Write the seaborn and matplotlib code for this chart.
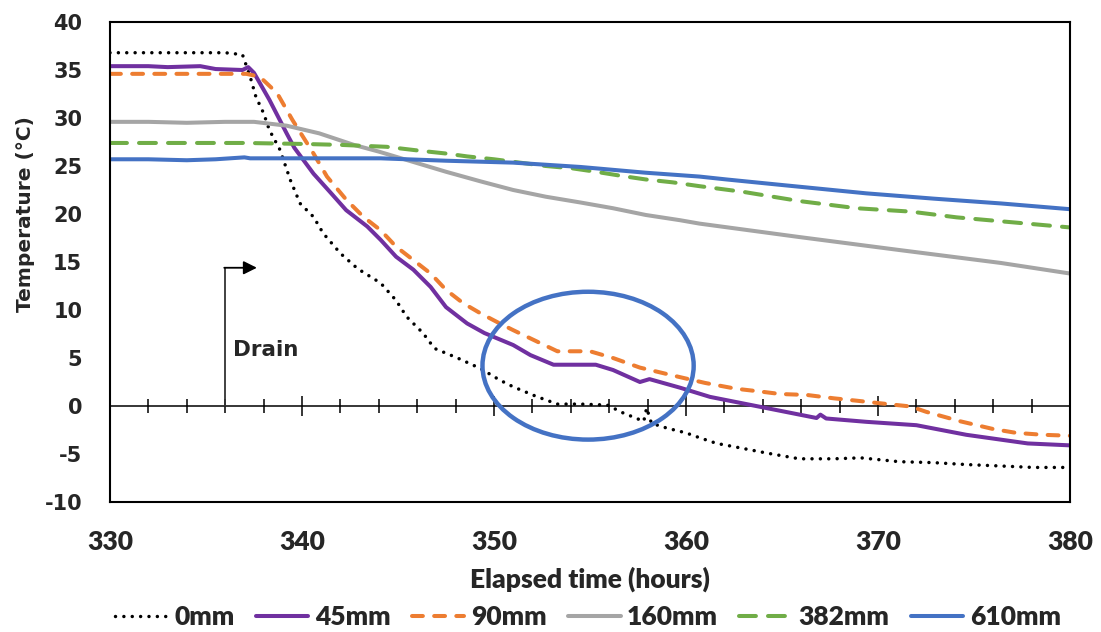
import matplotlib
matplotlib.use("Agg")
import matplotlib.pyplot as plt
from matplotlib import font_manager
from matplotlib.patches import Ellipse
import seaborn as sns

# Temperature records after draining, by depth (elapsed hours, degC)
t_0mm = [330, 332, 334, 336, 336.9, 337.3, 337.6, 338.0, 338.3, 338.85, 339.4, 339.9,
         340.6, 341.1, 342.0, 342.9, 344.1, 344.9, 345.45, 346.3, 346.9, 348.1, 349.3,
         350.3, 351.0, 352.2, 353.3, 354.5, 355.9, 356.7, 357.8, 357.95, 358.2, 359.0,
         360.0, 360.7, 361.6, 362.4, 364.2, 365.9, 367.7, 369.1, 371.1, 372.9, 374.6,
         376.4, 378.1, 380]
temp_0mm = [36.8, 36.8, 36.8, 36.8, 36.6, 34.3, 32.2, 30.5, 28.75, 26.7, 23.5, 21.1,
            19.7, 18.0, 15.9, 14.3, 12.8, 11.0, 9.3, 7.6, 6.0, 5.0, 3.9,
            2.7, 2.0, 1.0, 0.2, 0.2, 0.1, -0.7, -1.6, -0.2, -1.8, -2.3,
            -2.8, -3.3, -3.9, -4.2, -4.9, -5.5, -5.5, -5.4, -5.8, -5.9, -6.1,
            -6.25, -6.4, -6.4]

t_45mm = [330, 332, 333, 334.7, 335.5, 336.9, 337.2, 337.5, 338.3, 339.2, 339.6, 340.6,
          341.5, 342.3, 343.4, 344.1, 344.9, 345.8, 346.7, 347.5, 348.6, 349.5, 351.0,
          351.9, 353.1, 355.3, 356.2, 357.6, 358.1, 359.7, 361.25, 363.9, 366.8, 367.0,
          367.3, 369.4, 372.0, 374.6, 377.8, 380]
temp_45mm = [35.4, 35.4, 35.3, 35.4, 35.1, 35.0, 35.3, 34.7, 31.9, 28.4, 26.9, 24.2,
             22.2, 20.4, 18.7, 17.3, 15.55, 14.2, 12.4, 10.3, 8.6, 7.6, 6.35,
             5.3, 4.3, 4.3, 3.75, 2.5, 2.8, 1.9, 0.95, -0.1, -1.25, -0.9,
             -1.3, -1.65, -2.0, -3.0, -3.9, -4.1]

t_90mm = [330, 334, 337.1, 337.8, 338.7, 339.5, 340.6, 341.3, 342.3, 343.2, 344.1, 344.9,
          345.8, 346.7, 347.5, 348.4, 349.3, 350.3, 351.0, 353.3, 355.0, 356.2, 357.6,
          359.7, 361.0, 362.6, 363.9, 364.9, 366.3, 367.7, 368.9, 370.5, 371.7, 372.5,
          374.3, 376.0, 377.2, 378.6, 380]
temp_90mm = [34.6, 34.6, 34.6, 34.3, 32.6, 29.8, 26.3, 23.9, 21.5, 19.7, 18.3, 16.6,
             15.2, 13.8, 12.1, 10.7, 9.65, 8.6, 7.9, 5.7, 5.7, 5.0, 4.0,
             3.0, 2.4, 1.8, 1.5, 1.25, 1.15, 0.8, 0.55, 0.2, -0.05, -0.6,
             -1.6, -2.4, -2.8, -3.0, -3.1]

t_160mm = [330, 332, 334, 336, 337.5, 339.2, 340.9, 342.7, 344.0, 345.0, 346.0, 347.5,
           349.3, 351.0, 352.7, 354.5, 356.2, 357.9, 359.7, 360.7, 365.9, 371.1, 376.4, 380]
temp_160mm = [29.6, 29.6, 29.5, 29.6, 29.6, 29.2, 28.4, 27.2, 26.5, 25.9, 25.3, 24.4,
              23.4, 22.5, 21.8, 21.2, 20.6, 19.9, 19.35, 19.0, 17.6, 16.25, 14.9, 13.8]

t_382mm = [330, 334, 337, 340, 342, 344.4, 346.1, 347.5, 348.6, 350.0, 352.7, 354.1,
           355.3, 356.7, 357.9, 359.3, 360.7, 363.0, 365.9, 368.9, 371.7, 374.1, 377.2, 380]
temp_382mm = [27.4, 27.4, 27.4, 27.3, 27.2, 27.0, 26.6, 26.3, 26.0, 25.7, 25.0, 24.75,
              24.4, 23.95, 23.6, 23.3, 22.9, 22.3, 21.35, 20.6, 20.25, 19.65, 19.1, 18.6]

t_610mm = [330, 332, 334, 335.5, 337, 337.3, 340, 344.1, 347.5, 351.0, 354.5, 357.9,
           360.7, 362.1, 365.1, 369.4, 372.9, 376.4, 380]
temp_610mm = [25.7, 25.7, 25.6, 25.7, 25.9, 25.8, 25.8, 25.8, 25.55, 25.35, 24.9, 24.3,
              23.9, 23.6, 23.0, 22.15, 21.6, 21.1, 20.5]

depth_labels = ["0mm", "45mm", "90mm", "160mm", "382mm", "610mm"]
x_ticks = [330, 340, 350, 360, 370, 380]
y_ticks = [-10, -5, 0, 5, 10, 15, 20, 25, 30, 35, 40]

sns.set_theme(style="white")
installed = {f.name for f in font_manager.fontManager.ttflist}
narrow = "Lato" if "Lato" in installed else "Liberation Sans"
plt.rcParams["font.family"] = ["DejaVu Sans"]

fig = plt.figure(figsize=(11.01, 6.32), dpi=100)
ax = fig.add_axes([110 / 1101, 1 - 502 / 632, 960 / 1101, 480 / 632])

series = [
    (t_0mm, temp_0mm, "black", dict(linestyle=(0, (0.01, 2.4)), lw=2.5, dash_capstyle="round")),
    (t_45mm, temp_45mm, "#7030A0", dict(linestyle="-", lw=2.9)),
    (t_90mm, temp_90mm, "#ED7D31", dict(linestyle=(0, (2.7, 2.8)), lw=2.9, dash_capstyle="round")),
    (t_160mm, temp_160mm, "#A5A5A5", dict(linestyle="-", lw=2.9)),
    (t_382mm, temp_382mm, "#70AD47", dict(linestyle=(0, (4.2, 3.0)), lw=2.9, dash_capstyle="round")),
    (t_610mm, temp_610mm, "#4472C4", dict(linestyle="-", lw=2.9)),
]
for (tx, ty, col, style), name in zip(series, depth_labels):
    sns.lineplot(x=tx, y=ty, ax=ax, color=col, label=name, errorbar=None, **style)

ax.set_xlim(330, 380)
ax.set_ylim(-10, 40)
ax.set_xticks(x_ticks)
ax.set_yticks(y_ticks)
ax.set_xticklabels([str(v) for v in x_ticks], fontfamily=narrow, fontweight="heavy", fontsize=19)
ax.set_yticklabels([str(v) for v in y_ticks], fontweight="bold", fontsize=15)
ax.tick_params(axis="x", length=0, pad=20)
ax.tick_params(axis="y", length=0, pad=20)
for sp in ax.spines.values():
    sp.set_visible(True)
    sp.set_color("black")
    sp.set_linewidth(1.5)

ax.set_xlabel("Elapsed time (hours)", fontfamily=narrow, fontweight="heavy", fontsize=19)
ax.xaxis.set_label_coords(0.5, -0.135)
ax.set_ylabel("Temperature (°C)", fontweight="bold", fontsize=14.5)
ax.yaxis.set_label_coords(-0.078, 0.60)

# zero-degree reference axis with 2-hour tick marks
zero_axis = ax.secondary_xaxis(0.2)
zero_axis.set_xticks(x_ticks)
zero_axis.set_xticks(list(range(330, 381, 2)), minor=True)
zero_axis.tick_params(which="major", direction="inout", length=14, width=1.1, color="black",
                      labelbottom=False)
zero_axis.tick_params(which="minor", direction="inout", length=10, width=1.1, color="black")
zero_axis.set_xticklabels([])
zero_axis.spines["bottom"].set_linewidth(1.1)
zero_axis.spines["bottom"].set_color("black")

# drain marker
ax.plot([336, 336], [0, 14.4], color="#333333", lw=1.3, zorder=5)
ax.annotate("", xy=(337.65, 14.4), xytext=(335.95, 14.4),
            arrowprops=dict(arrowstyle="-|>", color="black", lw=1.3, mutation_scale=20,
                            shrinkA=0, shrinkB=0), zorder=5)
ax.text(336.4, 5.8, "Drain", fontweight="bold", fontsize=15.5, va="center", ha="left")

# highlighted plateau
ax.add_patch(Ellipse((354.9, 4.2), 11.0, 15.4, fill=False, edgecolor="#4472C4", lw=3.2, zorder=6))

handles, labels = ax.get_legend_handles_labels()
if ax.get_legend() is not None:
    ax.get_legend().remove()
fig.legend(handles, labels, loc="center", bbox_to_anchor=(0.534, 0.024), ncol=6, frameon=False,
           prop=dict(family=narrow, weight="heavy", size=19), handlelength=2.0,
           handletextpad=0.25, columnspacing=0.8, borderaxespad=0)

fig.savefig("out.png", dpi=100)
